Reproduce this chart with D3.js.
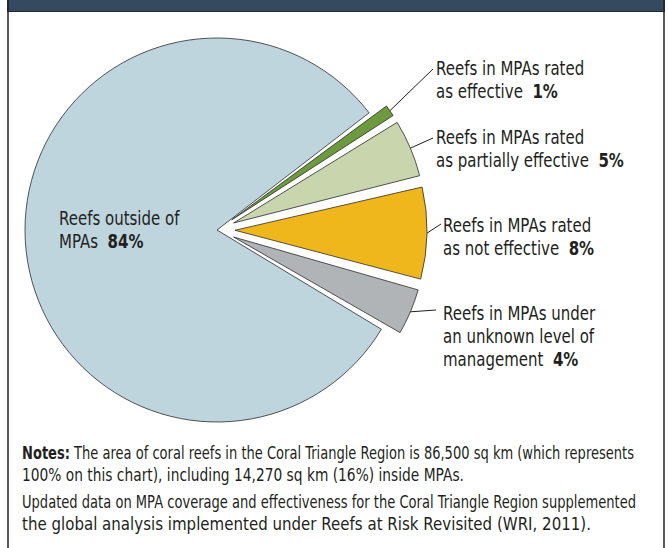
<!DOCTYPE html>
<html>
<head>
<meta charset="utf-8">
<script src="https://cdn.jsdelivr.net/npm/d3@7"></script>
<style>
  body { margin: 0; background: #fff; }
  svg { display: block; }
  text { font-family: "DejaVu Sans", sans-serif; fill: #231f20; }
</style>
</head>
<body>
<svg id="chart" width="668" height="548"></svg>
<script>
// Share of coral reef area in the Coral Triangle Region, by MPA status
const categories = [
  "Reefs in MPAs rated as effective",
  "Reefs in MPAs rated as partially effective",
  "Reefs in MPAs rated as not effective",
  "Reefs in MPAs under an unknown level of management",
  "Reefs outside of MPAs"
];
const shares = [1, 5, 8, 4, 84];
const shareLabels = ["1%", "5%", "8%", "4%", "84%"];
const labelLines = [
  ["Reefs in MPAs rated", "as effective"],
  ["Reefs in MPAs rated", "as partially effective"],
  ["Reefs in MPAs rated", "as not effective"],
  ["Reefs in MPAs under", "an unknown level of", "management"],
  ["Reefs outside of", "MPAs"]
];
const colors = ["#6c9a3d", "#c9d5ad", "#f0b71d", "#b1b4b7", "#bfd5de"];
const notes = [
  [{b: "Notes:"}, " The area of coral reefs in the Coral Triangle Region is 86,500 sq km (which represents"],
  ["100% on this chart), including 14,270 sq km (16%) inside MPAs."],
  ["Updated data on MPA coverage and effectiveness for the Coral Triangle Region supplemented"],
  ["the global analysis implemented under Reefs at Risk Revisited (WRI, 2011)."]
];

const svg = d3.select("#chart");
const W = 668, H = 548;
const squeeze = 0.75;   // condensed type: horizontal scale applied to all text

// frame: header band and side rules
svg.append("rect").attr("x", 7).attr("y", 0).attr("width", 658).attr("height", 11).attr("fill", "#364a5f");
svg.append("line").attr("x1", 7).attr("x2", 665).attr("y1", 11.5).attr("y2", 11.5).attr("stroke", "#1f2a35").attr("stroke-width", 1);
svg.append("line").attr("x1", 8).attr("x2", 8).attr("y1", 0).attr("y2", H).attr("stroke", "#222").attr("stroke-width", 1.5);
svg.append("line").attr("x1", 664).attr("x2", 664).attr("y1", 0).attr("y2", H).attr("stroke", "#222").attr("stroke-width", 1.5);

// text block helper: lines of parts, strings are regular, {b:..} bold
function textBlock(x, y, lines, size, lineH, width) {
  const t = svg.append("text")
    .attr("transform", `translate(${x},${y}) scale(${squeeze},1)`)
    .attr("font-size", size);
  if (width) t.attr("textLength", width / squeeze).attr("lengthAdjust", "spacingAndGlyphs");
  lines.forEach((parts, k) => {
    parts.forEach((p, j) => {
      const ts = t.append("tspan");
      if (j === 0) ts.attr("x", 0).attr("y", k * lineH);
      if (typeof p === "string") ts.text(p);
      else ts.attr("font-weight", "bold").text(p.b);
    });
  });
  return t;
}

// pie
const cx = 217, cy = 230, R = 192, explode = 18;
const deg = Math.PI / 180;
const smallTotal = d3.sum(shares.slice(0, 4)) / d3.sum(shares) * 2 * Math.PI;
const gapCentre = 84.8 * deg;
const pie = d3.pie().sort(null).value(d => d)
  .startAngle(gapCentre - smallTotal / 2)
  .endAngle(gapCentre - smallTotal / 2 + 2 * Math.PI)
  .padAngle(0.022);
const arcs = pie(shares);
const arc = d3.arc().innerRadius(0).outerRadius(R);

const g = svg.append("g").attr("transform", `translate(${cx},${cy})`);
const offset = (d, i) => {
  if (i === 4) return [0, 0];
  const m = (d.startAngle + d.endAngle) / 2;
  return [explode * Math.sin(m), -explode * Math.cos(m)];
};
g.selectAll("path.slice").data(arcs).join("path")
  .attr("class", "slice")
  .attr("d", arc)
  .attr("transform", (d, i) => `translate(${offset(d, i)})`)
  .attr("fill", (d, i) => colors[i])
  .attr("stroke", "#2b2b2b")
  .attr("stroke-width", 0.8)
  .attr("stroke-linejoin", "miter");

// labels for the MPA slices
const labelX = [436, 436, 443, 443];
const labelY = [75, 144, 232, 320];
const lineH = 23;
const fs = 20;
const leaderEnd = [[433, 69], [433, 138], [441, 224], [436, 310]];

arcs.slice(0, 4).forEach((d, i) => {
  const m = (d.startAngle + d.endAngle) / 2;
  const [ox, oy] = offset(d, i);
  const sx = cx + ox + R * Math.sin(m), sy = cy + oy - R * Math.cos(m);
  svg.append("line")
    .attr("x1", sx).attr("y1", sy)
    .attr("x2", leaderEnd[i][0]).attr("y2", leaderEnd[i][1])
    .attr("stroke", "#231f20").attr("stroke-width", 1);
  const lines = labelLines[i].map((ln, k) =>
    k === labelLines[i].length - 1 ? [ln + "\u00a0\u00a0", {b: shareLabels[i]}] : [ln]);
  textBlock(labelX[i], labelY[i], lines, fs, lineH);
});

// label inside the large slice
textBlock(59, 225, [[labelLines[4][0]], [labelLines[4][1] + "\u00a0\u00a0", {b: shareLabels[4]}]], fs, lineH);

// notes, each line set to its column width
const noteY = [459, 481, 508, 530];
const noteW = [612, 442, 614, 569];
notes.forEach((parts, i) => textBlock(22, noteY[i], [parts], 17.5, 0, noteW[i]));
</script>
</body>
</html>
